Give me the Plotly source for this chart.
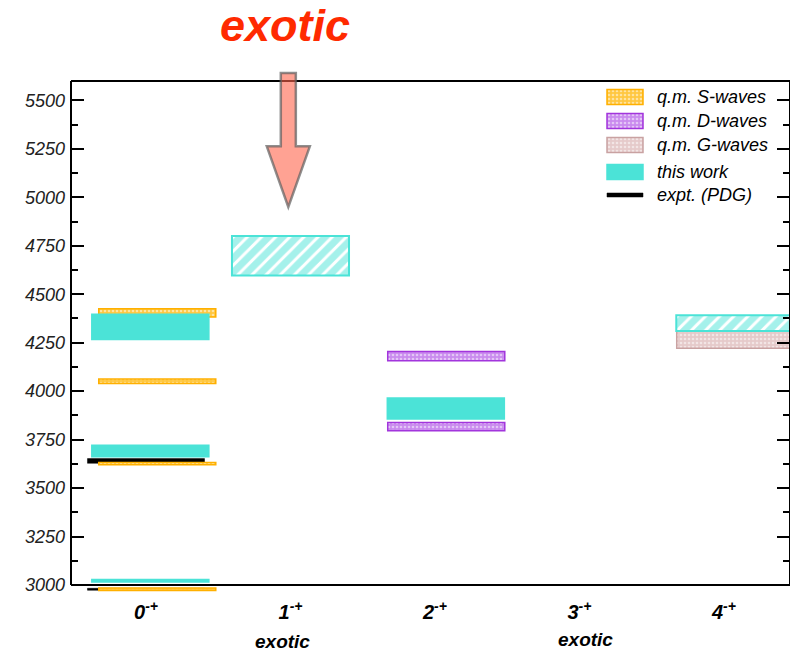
import plotly.graph_objects as go

FONT = 'Arial, "Liberation Sans", Helvetica, sans-serif'

# J^PC channels on the horizontal axis
channels = ["0<sup>-+</sup>", "1<sup>-+</sup>", "2<sup>-+</sup>", "3<sup>-+</sup>", "4<sup>-+</sup>"]
exotic_channels = [1, 3]

# Mass levels in MeV: channel index, lower edge, upper edge
pdg_ch = [0, 0]
pdg_lo = [2973, 3628]
pdg_hi = [2983, 3652]

s_ch = [0, 0, 0, 0]
s_lo = [2971, 3620, 4040, 4383]
s_hi = [2984, 3632, 4063, 4425]

d_ch = [2, 2]
d_lo = [3796, 4157]
d_hi = [3838, 4205]

g_ch = [4]
g_lo = [4221]
g_hi = [4309]

# this work, conventional levels (solid boxes)
tw_ch = [0, 0, 0, 2]
tw_lo = [3015, 3661, 4267, 3856]
tw_hi = [3029, 3721, 4397, 3965]

# this work, hybrid-like levels (hatched boxes)
hy_ch = [1, 4]
hy_lo = [4596, 4310]
hy_hi = [4800, 4391]

y_ticks = list(range(3000, 5501, 250))

legend_labels = ["q.m. S-waves", "q.m. D-waves", "q.m. G-waves", "this work", "expt. (PDG)"]

# ---- geometry ----
W, H = 790, 653
M_L, M_R, M_T, M_B = 71, 0, 81, 60
FRAME_BOTTOM = 585            # pixel row of the lower frame line (3000 MeV)
PLOT_H = H - M_T - M_B        # drawing area; levels may hang a little below the frame

X_RANGE = [-0.519, 4.457]
Y_FRAME = [3000, 5600]
mev_per_px = (Y_FRAME[1] - Y_FRAME[0]) / (FRAME_BOTTOM - M_T)
Y_RANGE = [Y_FRAME[0] - (H - M_B - FRAME_BOTTOM) * mev_per_px, Y_FRAME[1]]

BOX_W = 0.81
QM_SHIFT = 0.078
TW_SHIFT = {0: 0.03, 1: 0.0, 2: 0.075, 3: 0.075, 4: 0.075}

CYAN = "#4BE3D7"
ORANGE_LINE, ORANGE_FILL = "#FFB000", "#FFC740"
PURPLE_LINE, PURPLE_FILL = "#A235DC", "#C98AEE"
ROSE_LINE, ROSE_FILL = "#C9A2A2", "#E5CACA"

styles = {
    "S": dict(color=ORANGE_FILL, line=dict(color=ORANGE_LINE, width=1.5),
              pattern=dict(shape=".", fgcolor="white", bgcolor=ORANGE_FILL, size=4, solidity=0.35)),
    "D": dict(color=PURPLE_FILL, line=dict(color=PURPLE_LINE, width=1.5),
              pattern=dict(shape=".", fgcolor="white", bgcolor=PURPLE_FILL, size=4, solidity=0.35)),
    "G": dict(color=ROSE_FILL, line=dict(color=ROSE_LINE, width=1.5),
              pattern=dict(shape=".", fgcolor="white", bgcolor=ROSE_FILL, size=4, solidity=0.35)),
    "TW": dict(color=CYAN, line=dict(color=CYAN, width=1.5)),
    "HY": dict(color="white", line=dict(color=CYAN, width=2),
               pattern=dict(shape="/", fgcolor=CYAN, bgcolor="white", size=10, solidity=0.7)),
    "PDG": dict(color="black", line=dict(color="black", width=0.5)),
}


def level_boxes(ch, lo, hi, shift, style):
    return go.Bar(
        x=[c + shift(c) for c in ch],
        y=[h - l for l, h in zip(lo, hi)],
        base=lo,
        width=BOX_W,
        marker=style,
        showlegend=False,
        hoverinfo="skip",
    )


fig = go.Figure()
fig.add_trace(level_boxes(pdg_ch, pdg_lo, pdg_hi, lambda c: 0.0, styles["PDG"]))
fig.add_trace(level_boxes(s_ch, s_lo, s_hi, lambda c: QM_SHIFT, styles["S"]))
fig.add_trace(level_boxes(d_ch, d_lo, d_hi, lambda c: QM_SHIFT, styles["D"]))
fig.add_trace(level_boxes(g_ch, g_lo, g_hi, lambda c: QM_SHIFT, styles["G"]))
fig.add_trace(level_boxes(tw_ch, tw_lo, tw_hi, lambda c: TW_SHIFT[c], styles["TW"]))
fig.add_trace(level_boxes(hy_ch, hy_lo, hy_hi, lambda c: TW_SHIFT[c], styles["HY"]))

# Legend key drawn on an overlay axis measured in pixel rows/columns
KEY_ROWS = [97, 121, 145, 172, 195]
KEY_X0, KEY_LEN = 607, 36
key_styles = [styles["S"], styles["D"], styles["G"], styles["TW"], styles["PDG"]]
key_heights = [15, 15, 15, 15, 4]
for row, st, hgt in zip(KEY_ROWS, key_styles, key_heights):
    fig.add_trace(go.Bar(
        orientation="h", x=[KEY_LEN], base=[KEY_X0], y=[row], width=hgt,
        marker=st, xaxis="x2", yaxis="y2", showlegend=False, hoverinfo="skip",
    ))

annotations = []
for row, label in zip(KEY_ROWS, legend_labels):
    annotations.append(dict(
        x=KEY_X0 + KEY_LEN + 12, y=row, xref="x2", yref="y2", text=label,
        showarrow=False, xanchor="left", yanchor="middle",
        font=dict(family=FONT, size=18, style="italic", color="black"),
    ))


def px(v):
    return (v - X_RANGE[0]) / (X_RANGE[1] - X_RANGE[0])


def py(v):
    return (v - Y_RANGE[0]) / (Y_RANGE[1] - Y_RANGE[0])


def py_pixel(row):
    return (H - M_B - row) / PLOT_H


# "exotic" notes under the exotic channels
for ch, dx, row in zip(exotic_channels, [-8, 6], [641, 639]):
    annotations.append(dict(
        x=ch, y=py_pixel(row), xref="x", yref="paper", xshift=dx, text="exotic",
        showarrow=False, xanchor="center", yanchor="middle",
        font=dict(family=FONT, size=19, style="italic", weight="bold", color="black"),
    ))

# headline above the exotic 1-+ channel
annotations.append(dict(
    x=exotic_channels[0], y=py_pixel(25), xref="x", yref="paper", xshift=-5, text="exotic",
    showarrow=False, xanchor="center", yanchor="middle",
    font=dict(family=FONT, size=45, style="italic", weight="bold", color="#FF2A00"),
))

# big arrow pointing down at the exotic 1-+ state
xc = exotic_channels[0] - 0.015
shaft, head = 0.052, 0.149
y_top, y_base, y_tip = 5641, 5263, 4950
arrow_path = (
    f"M{px(xc - shaft)},{py(y_top)} L{px(xc + shaft)},{py(y_top)} "
    f"L{px(xc + shaft)},{py(y_base)} L{px(xc + head)},{py(y_base)} "
    f"L{px(xc)},{py(y_tip)} L{px(xc - head)},{py(y_base)} "
    f"L{px(xc - shaft)},{py(y_base)} Z"
)

# frame: bottom edge sits at 3000 MeV, the levels below it stay visible
y0 = py(Y_FRAME[0])
frame = dict(type="line", xref="paper", yref="paper", layer="above",
             line=dict(color="black", width=2))
shapes = [
    dict(frame, x0=0, x1=1, y0=y0, y1=y0),
    dict(frame, x0=0, x1=1, y0=1, y1=1),
    dict(frame, x0=0, x1=0, y0=y0, y1=1),
    dict(frame, x0=1, x1=1, y0=y0, y1=1),
    dict(type="path", path=arrow_path, xref="paper", yref="paper", layer="above",
         fillcolor="rgba(255,100,75,0.6)", line=dict(color="rgba(95,95,95,0.7)", width=2.5)),
]

fig.update_layout(
    width=W, height=H,
    margin=dict(l=M_L, r=M_R, t=M_T, b=M_B),
    paper_bgcolor="white", plot_bgcolor="white",
    barmode="overlay",
    showlegend=False,
    font=dict(family=FONT, color="black"),
    annotations=annotations,
    shapes=shapes,
    xaxis=dict(
        range=X_RANGE, tickvals=list(range(len(channels))), ticktext=channels,
        showline=False, ticks="", showgrid=False, zeroline=False, ticklabelstandoff=5,
        tickfont=dict(family=FONT, size=20, style="italic", weight="bold", color="black"),
    ),
    yaxis=dict(
        range=Y_RANGE, tickvals=y_ticks,
        showline=False, mirror="ticks",
        ticks="inside", ticklen=13, tickwidth=1.5, tickcolor="black",
        minor=dict(ticks="inside", ticklen=7, tickwidth=1.5, tickcolor="black",
                   dtick=125, tick0=3000),
        showgrid=False, zeroline=False, ticklabelstandoff=5,
        tickfont=dict(family=FONT, size=18, style="italic", color="#222222"),
    ),
    xaxis2=dict(range=[M_L, W - M_R], overlaying="x", anchor="y2",
                visible=False, fixedrange=True),
    yaxis2=dict(range=[H - M_B, M_T], overlaying="y", anchor="x2",
                visible=False, fixedrange=True),
)

fig.write_html("out.html")
